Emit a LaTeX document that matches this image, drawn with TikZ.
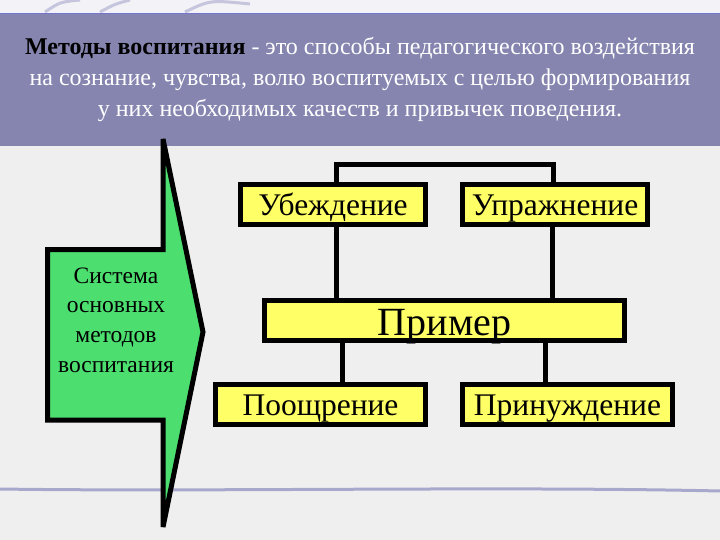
\documentclass[tikz,border=0pt]{standalone}
\usepackage{fontspec}
\setmainfont{Liberation Serif}
\definecolor{bgc}{HTML}{EFEFF0}
\definecolor{banner}{HTML}{8585B0}
\definecolor{bannerline}{HTML}{7474D0}
\definecolor{ylw}{HTML}{FFFF66}
\definecolor{grn}{HTML}{4CDF70}
\definecolor{deco}{HTML}{A8A8CC}
\begin{document}
\begin{tikzpicture}[x=1pt,y=-1pt,
  box/.style={draw=black, line width=5pt, fill=ylw, inner sep=0pt, minimum height=40pt,
    text height=24pt, text depth=2pt, font=\fontsize{31.5}{32}\selectfont},
  conn/.style={draw=black, line width=5pt}]
\useasboundingbox (0,0) rectangle (720,540);
\fill[bgc] (0,0) rectangle (720,540);
% top decorative strip
\fill[white!85!deco] (0,0) rectangle (720,14);
\draw[deco, line width=3pt, opacity=0.6] (45,12) .. controls (60,2) .. (80,0);
\draw[deco, line width=3pt, opacity=0.6] (100,12) .. controls (115,4) .. (130,0);
\draw[deco, line width=3pt, opacity=0.6] (185,12) .. controls (210,0) .. (250,4);
% banner
\fill[banner] (0,13) rectangle (720,146);
\draw[bannerline, line width=1.5pt] (0,13.5) -- (720,13.5);
\node[align=center, font=\fontsize{24}{31}\selectfont, text=white] (def) at (360,80)
 {\textcolor{black}{\textbf{Методы воспитания}} - это способы педагогического воздействия\\
  на сознание, чувства, волю воспитуемых с целью формирования\\
  у них необходимых качеств и привычек поведения.};
% bottom decorative line
\draw[deco, line width=3pt, line cap=round] (0,489) .. controls (200,492) and (500,486) .. (720,491);
% green arrow shape
\coordinate (st) at (163,139);
\coordinate (tip) at (203,332);
\coordinate (sb) at (163,527);
\filldraw[fill=grn, draw=black, line width=5pt, line join=miter, miter limit=3]
  (st) -- (tip) -- (sb) -- (163,420) -- (47.5,420) -- (47.5,249.5) -- (163,249.5) -- cycle;
\node[align=center, font=\fontsize{23.5}{29.7}\selectfont] (sys) at (116,320)
 {Система\\основных\\методов\\воспитания};
% boxes
\node[box, minimum width=185pt] (ub) at (333,204.5) {Убеждение};
\node[box, minimum width=185pt] (up) at (555,204.5) {Упражнение};
\node[box, minimum width=360pt, text height=30pt, text depth=1pt, font=\fontsize{40}{40}\selectfont] (pr) at (444.5,320.5) {Пример};
\node[box, minimum width=210pt] (po) at (320.5,404.5) {Поощрение};
\node[box, minimum width=210pt] (pn) at (567.5,404.5) {Принуждение};
% connectors
\draw[conn] (ub.north -| 336,0) |- (553,165) -- (up.north -| 553,0);
\draw[conn] (ub.south -| 336,0) -- (pr.north -| 336,0);
\draw[conn] (up.south -| 552,0) -- (pr.north -| 552,0);
\draw[conn] (pr.south -| 342,0) -- (po.north -| 342,0);
\draw[conn] (pr.south -| 545,0) -- (pn.north -| 545,0);
\end{tikzpicture}
\end{document}
